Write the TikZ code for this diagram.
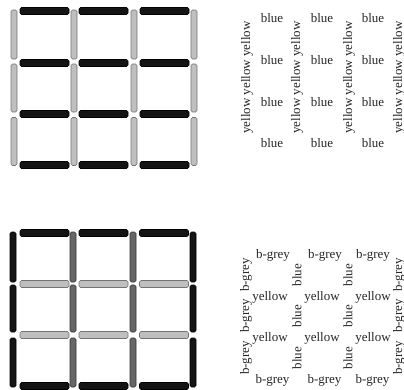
\documentclass[tikz,border=0pt]{standalone}
\usepackage{fontspec}
\setmainfont{Liberation Serif}
\begin{document}
\begin{tikzpicture}[x=1pt,y=-1pt,
  bar/.style={draw=black!75,line width=0.6pt,rounded corners=1.5pt,inner sep=0pt,outer sep=0pt},
  hbar/.style={bar,minimum width=49pt,minimum height=7pt},
  vbar/.style={bar,minimum width=6pt},
  blk/.style={fill=black!92,draw=black},
  lgr/.style={fill=black!25,draw=black!55},
  dgr/.style={fill=black!60,draw=black!80},
  lbl/.style={font=\fontsize{13}{15}\selectfont,text=black!85,inner sep=0pt},
  vlbl/.style={lbl,rotate=90}]
\useasboundingbox (0,0) rectangle (404,389);
% ---------- top grid ----------
\foreach \y [count=\r] in {11,63,114,165}{
  \foreach \x [count=\c] in {44.5,103.5,164.5}{
    \node[hbar,blk] (th\r\c) at (\x,\y) {};
  }
}
\foreach \x [count=\c] in {14,74,134,194}{
  \node[vbar,lgr,minimum height=49pt] (tv1\c) at (\x,34.5) {};
  \node[vbar,lgr,minimum height=48pt] (tv2\c) at (\x,88) {};
  \node[vbar,lgr,minimum height=48pt] (tv3\c) at (\x,141.5) {};
}
% ---------- bottom grid ----------
\foreach \x [count=\c] in {44.5,103.5,164}{
  \node[hbar,blk] (bh1\c) at (\x,233) {};
  \node[hbar,lgr] (bh2\c) at (\x,284) {};
  \node[hbar,lgr] (bh3\c) at (\x,335) {};
  \node[hbar,blk] (bh4\c) at (\x,386) {};
}
\foreach \x [count=\c] in {13,193}{
  \node[vbar,blk,minimum height=50pt] (bvo1\c) at (\x,257) {};
  \node[vbar,blk,minimum height=47pt] (bvo2\c) at (\x,308.5) {};
  \node[vbar,blk,minimum height=49pt] (bvo3\c) at (\x,362.5) {};
}
\foreach \x [count=\c] in {73,133}{
  \node[vbar,dgr,minimum height=50pt] (bvi1\c) at (\x,257) {};
  \node[vbar,dgr,minimum height=47pt] (bvi2\c) at (\x,308.5) {};
  \node[vbar,dgr,minimum height=49pt] (bvi3\c) at (\x,362.5) {};
}
% ---------- top labels ----------
\foreach \y [count=\r] in {18,60,102,143}{
  \foreach \x [count=\c] in {272,322,373}{
    \node[lbl] (tb\r\c) at (\x,\y) {blue};
  }
}
\foreach \x [count=\c] in {247,297,349,399}{
  \node[vlbl] (ty\c) at (\x,77.5) {yellow yellow yellow};
}
% ---------- bottom labels ----------
\foreach \x [count=\c] in {273,325,373}{
  \node[lbl] (bg1\c) at (\x,255) {b-grey};
  \node[lbl] (bg4\c) at (\x-0.5,380) {b-grey};
}
\foreach \y [count=\r] in {297,338}{
  \foreach \x [count=\c] in {270,322,373}{
    \node[lbl] (by\r\c) at (\x,\y) {yellow};
  }
}
\foreach \y [count=\r] in {275,316,358}{
  \node[vlbl] (bgl\r) at (246,\y) {b-grey};
  \node[vlbl] (bbl\r) at (297,\y) {blue};
  \node[vlbl] (bbr\r) at (348,\y) {blue};
  \node[vlbl] (bgr\r) at (399,\y) {b-grey};
}
\end{tikzpicture}
\end{document}
